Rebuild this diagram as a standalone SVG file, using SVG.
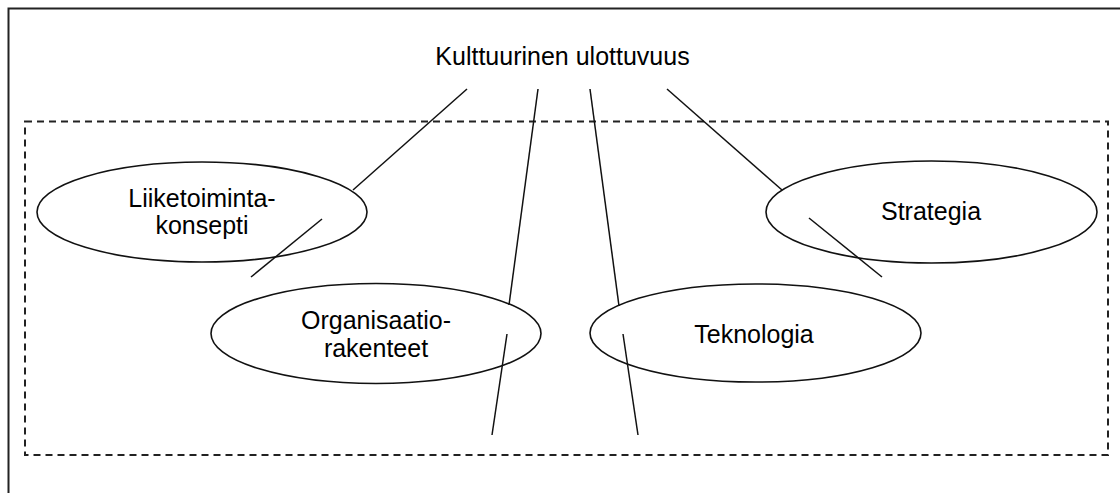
<svg xmlns="http://www.w3.org/2000/svg" width="1120" height="493" viewBox="0 0 1120 493">
<style>
.frame{fill:none;stroke:#222;stroke-width:2}
.dash{fill:none;stroke:#222;stroke-width:2;stroke-dasharray:7,5}
.node{fill:none;stroke:#111;stroke-width:1.6}
.conn line{stroke:#111;stroke-width:1.5}
text{font-family:"Liberation Sans",Arial,sans-serif;font-size:25px;fill:#000;text-anchor:middle}
</style>
<rect fill="#fff" x="0" y="0" width="1120" height="493"/>
<rect class="frame" x="8.5" y="8.5" width="1130" height="500"/>
<rect class="dash" x="25" y="121.5" width="1083" height="333.5"/>
<g id="title"><text x="562.5" y="65">Kulttuurinen ulottuvuus</text></g>
<g id="liiketoiminta">
<ellipse class="node" cx="202" cy="212" rx="165" ry="50"/>
<text x="202" y="207">Liiketoiminta-</text>
<text x="202" y="234">konsepti</text>
</g>
<g id="strategia">
<ellipse class="node" cx="931.5" cy="212" rx="165.5" ry="51"/>
<text x="931" y="220">Strategia</text>
</g>
<g id="organisaatio">
<ellipse class="node" cx="376" cy="333.5" rx="165" ry="50"/>
<text x="376" y="329">Organisaatio-</text>
<text x="376" y="357">rakenteet</text>
</g>
<g id="teknologia">
<ellipse class="node" cx="755.5" cy="333" rx="165.5" ry="49"/>
<text x="754" y="343">Teknologia</text>
</g>
<g id="connectors" class="conn">
<line x1="467" y1="89" x2="353" y2="190"/>
<line x1="322" y1="219" x2="251" y2="277"/>
<line x1="538" y1="89" x2="509" y2="305"/>
<line x1="507" y1="334" x2="492" y2="435"/>
<line x1="590" y1="89" x2="619" y2="306"/>
<line x1="623" y1="334" x2="638" y2="435"/>
<line x1="667" y1="89" x2="782" y2="190"/>
<line x1="809" y1="218" x2="882" y2="277"/>
</g>
</svg>
